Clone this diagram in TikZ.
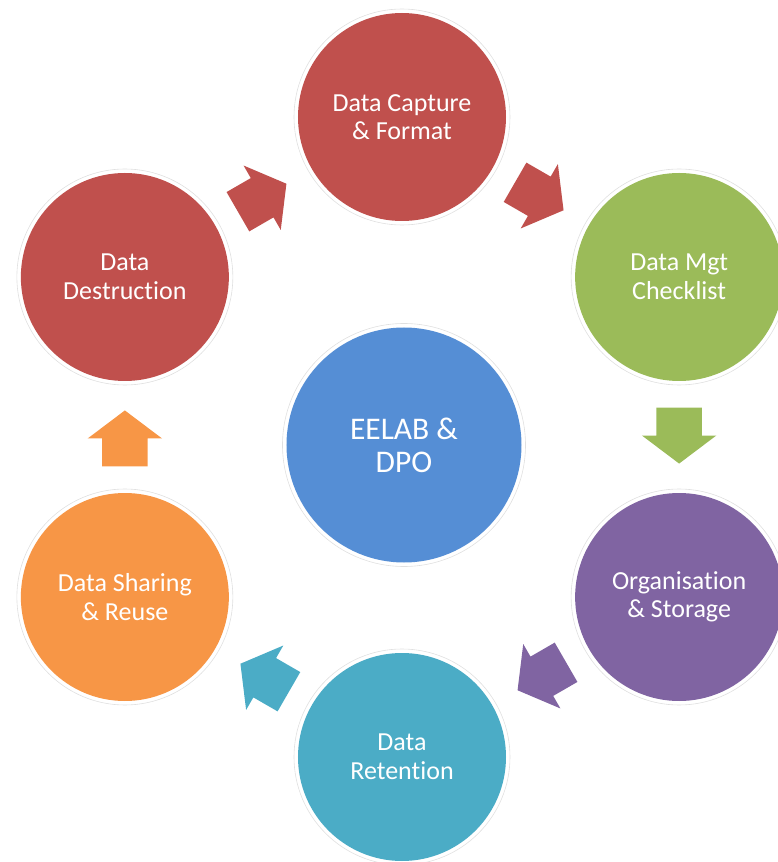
\documentclass[tikz,border=0pt]{standalone}
\usepackage{fontspec}
\setmainfont{Carlito}[Ligatures=NoCommon]
\usetikzlibrary{shapes.arrows,calc}
\definecolor{capred}{HTML}{C0504D}
\definecolor{mgtgreen}{HTML}{9BBB59}
\definecolor{orgpurple}{HTML}{8064A2}
\definecolor{retteal}{HTML}{4BACC6}
\definecolor{shrorange}{HTML}{F79646}
\definecolor{hubblue}{HTML}{558ED5}
\newcommand{\phasefont}{\fontsize{26}{28.5}\selectfont}
\newcommand{\hubfont}{\fontsize{31.5}{33}\selectfont}
\tikzstyle{phase}=[circle,minimum size=216pt,inner sep=0pt,draw=black!12,line width=0.6pt,fill=white,text=white,align=center,font=\phasefont,path picture={\fill[#1] (path picture bounding box.center) circle (104pt);}]
\tikzstyle{hub}=[circle,minimum size=243pt,inner sep=0pt,draw=black!12,line width=0.6pt,fill=white,text=white,align=center,font=\hubfont,path picture={\fill[#1] (path picture bounding box.center) circle (117.5pt);}]
\tikzstyle{flow}=[single arrow,single arrow head extend=14.5pt,single arrow tip angle=106,minimum height=56pt,inner xsep=0pt,inner ysep=22.5pt,fill=#1]

\begin{document}
\begin{tikzpicture}[x=1pt,y=1pt]
          \useasboundingbox (-402,-425) rectangle (376,437);

          \node[phase=capred]    (cap) at (90:320pt)   {Data Capture\\\& Format};
          \node[phase=mgtgreen]  (mgt) at (30:320pt)   {Data Mgt\\Checklist};
          \node[phase=orgpurple] (org) at (-30:320pt)  {Organisation\\\& Storage};
          \node[phase=retteal]   (ret) at (-90:320pt)  {Data\\Retention};
          \node[phase=shrorange] (shr) at (-150:320pt) {Data Sharing\\\& Reuse};
          \node[phase=capred]    (des) at (150:320pt)  {Data\\Destruction};

          \node[hub=hubblue]     (eel) at (2,-8)       {EELAB \&\\DPO};

          % block arrows between the phases
          \node[flow=capred,rotate=30]     (f1) at ($(des)!0.5!(cap)!10pt!(des)$) {};
          \node[flow=capred,rotate=-30]    (f2) at ($(cap)!0.5!(mgt)!10pt!(cap)$) {};
          \node[flow=mgtgreen,rotate=-90]  (f3) at ($(mgt)!0.5!(org)!10pt!(mgt)$) {};
          \node[flow=orgpurple,rotate=-150] (f4) at ($(org)!0.5!(ret)!10pt!(org)$) {};
          \node[flow=retteal,rotate=150]   (f5) at ($(ret)!0.5!(shr)!10pt!(ret)$) {};
          \node[flow=shrorange,rotate=90]  (f6) at ($(shr)!0.5!(des)!10pt!(shr)$) {};
        \end{tikzpicture}
\end{document}
